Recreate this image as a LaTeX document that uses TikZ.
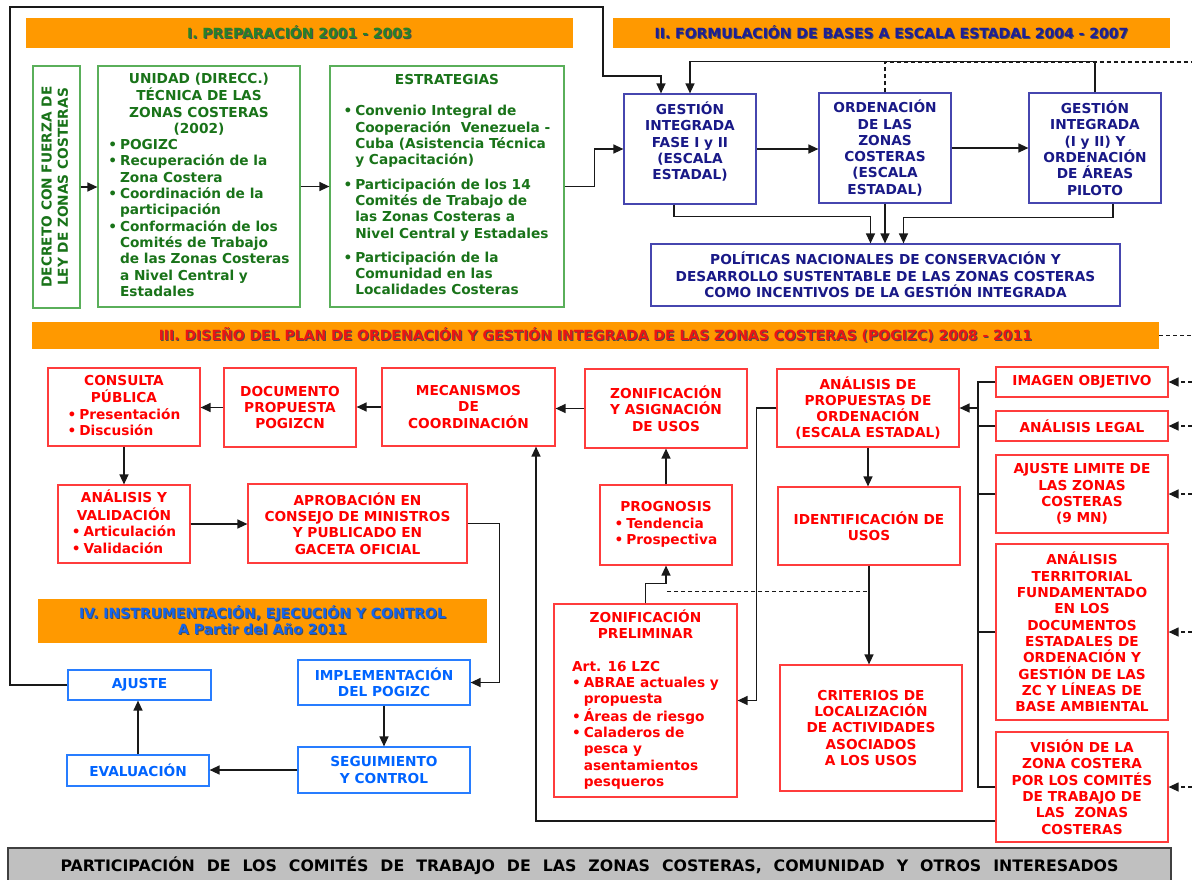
\documentclass[tikz,border=0pt]{standalone}
\usepackage{fontspec}
\setmainfont{DejaVu Sans}
\usepackage{graphicx}
\usetikzlibrary{arrows.meta,calc}

\definecolor{grtxt}{RGB}{25,115,25}
\definecolor{grln}{RGB}{90,175,90}
\definecolor{nvtxt}{RGB}{25,25,135}
\definecolor{nvln}{RGB}{70,70,175}
\definecolor{rdtxt}{RGB}{255,0,0}
\definecolor{rdln}{RGB}{255,60,60}
\definecolor{bltxt}{RGB}{0,100,255}
\definecolor{blln}{RGB}{40,125,255}
\definecolor{orng}{RGB}{255,153,0}
\definecolor{barfill}{RGB}{192,192,192}
\definecolor{hIcol}{RGB}{40,130,40}
\definecolor{hIIcol}{RGB}{30,30,150}
\definecolor{hIIIcol}{RGB}{235,20,20}
\definecolor{hIVcol}{RGB}{20,100,235}

% bullet lines and centred heads inside the boxes
\newcommand{\bl}{\makebox[0.85em][l]{•}}
\newcommand{\ct}{\hspace*{0.85em}}
\newcommand{\hd}[1]{\multicolumn{1}{@{}c@{}}{#1}}
\newcommand{\bx}[1]{\begin{tabular}{@{}l@{}}#1\end{tabular}}
\newcommand{\shad}[2]{\makebox[0pt][l]{\hspace*{1pt}\raisebox{-1pt}{\color{black!70}#2}}\textcolor{#1}{#2}}

\tikzset{
  cbox/.style={draw, line width=1.2pt, inner sep=0pt,
    font=\bfseries\fontsize{13.7}{16.3}\selectfont},
  gbox/.style={cbox, draw=grln, text=grtxt},
  nbox/.style={cbox, draw=nvln, text=nvtxt, align=center},
  rbox/.style={cbox, draw=rdln, text=rdtxt, align=center},
  bbox/.style={cbox, draw=blln, text=bltxt, align=center},
  hdr/.style={fill=orng, inner sep=0pt, align=center,
    font=\bfseries\fontsize{14}{16}\selectfont},
  ln/.style={line width=1.3pt, draw=black!90},
  arr/.style={ln, -{Triangle[length=10pt,width=9pt]}},
  dsh/.style={ln, dash pattern=on 4pt off 3pt},
  darr/.style={arr, dash pattern=on 4pt off 3pt}
}

\begin{document}
\begin{tikzpicture}[x=1pt,y=-1pt]
\useasboundingbox (0,0) rectangle (1192,879);
\fill[white] (0,0) rectangle (1192,879);

% headers
\node[hdr, minimum width=547, minimum height=30] (hI) at (299.5,33) {\shad{hIcol}{I. PREPARACIÓN 2001 - 2003}};
\node[hdr, minimum width=557, minimum height=30] (hII) at (891.5,33) {\shad{hIIcol}{II. FORMULACIÓN DE BASES A ESCALA ESTADAL 2004 - 2007}};
\node[hdr, minimum width=1127, minimum height=27] (hIII) at (595.5,335.5) {\shad{hIIIcol}{III. DISEÑO DEL PLAN DE ORDENACIÓN Y GESTIÓN INTEGRADA DE LAS ZONAS COSTERAS (POGIZC) 2008 - 2011}};
\node[hdr, minimum width=449, minimum height=44] (hIV) at (262.5,621) {\shad{hIVcol}{IV. INSTRUMENTACIÓN, EJECUCIÓN Y CONTROL}\\\shad{hIVcol}{A Partir del Año 2011}};
\node[draw=black!75, line width=1.5pt, fill=barfill, minimum width=1163, minimum height=36, inner sep=0pt,
  font=\bfseries\fontsize{15.8}{17}\selectfont] (partic) at (589.5,866)
  {\makebox[1058pt][s]{PARTICIPACIÓN DE LOS COMITÉS DE TRABAJO DE LAS ZONAS COSTERAS, COMUNIDAD Y OTROS INTERESADOS}};

% I. preparacion
\node[gbox, minimum width=47, minimum height=242] (decreto) at (56.5,187)
  {\rotatebox{90}{\begin{tabular}{@{}c@{}}DECRETO CON FUERZA DE\\LEY DE ZONAS COSTERAS\end{tabular}}};
\node[gbox, minimum width=202, minimum height=241] (unidad) at (199,186.5)
  {\bx{\hd{UNIDAD (DIRECC.)}\\ \hd{TÉCNICA DE LAS}\\ \hd{ZONAS COSTERAS}\\ \hd{(2002)}\\
  \bl POGIZC\\ \bl Recuperación de la\\ \ct Zona Costera\\ \bl Coordinación de la\\ \ct participación\\
  \bl Conformación de los\\ \ct Comités de Trabajo\\ \ct de las Zonas Costeras\\ \ct a Nivel Central y\\ \ct Estadales}};
\node[gbox, minimum width=234, minimum height=241] (estrat) at (447,186.5)
  {\bx{\hd{ESTRATEGIAS}\\[15pt] \bl Convenio Integral de\\ \ct Cooperación~ Venezuela -\\ \ct Cuba (Asistencia Técnica\\ \ct y Capacitación)\\[8pt]
  \bl Participación de los 14\\ \ct Comités de Trabajo de\\ \ct las Zonas Costeras a\\ \ct Nivel Central y Estadales\\[8pt]
  \bl Participación de la\\ \ct Comunidad en las\\ \ct Localidades Costeras}};

% II. formulacion
\node[nbox, minimum width=132, minimum height=110] (gfase) at (690,149) {GESTIÓN\\INTEGRADA\\FASE I y II\\(ESCALA\\ESTADAL)\\~};
\node[nbox, minimum width=132, minimum height=110] (orden) at (885,148) {ORDENACIÓN\\DE LAS\\ZONAS\\COSTERAS\\(ESCALA\\ESTADAL)};
\node[nbox, minimum width=132, minimum height=110] (gii) at (1095,148) {GESTIÓN\\INTEGRADA\\(I y II) Y\\ORDENACIÓN\\DE ÁREAS\\PILOTO};
\node[nbox, minimum width=469, minimum height=62] (politicas) at (885.5,275)
  {POLÍTICAS NACIONALES DE CONSERVACIÓN Y\\DESARROLLO SUSTENTABLE DE LAS ZONAS COSTERAS\\COMO INCENTIVOS DE LA GESTIÓN INTEGRADA};

% III. diseno
\node[rbox, minimum width=152, minimum height=78] (consulta) at (124,407) {\bx{\hd{CONSULTA}\\ \hd{PÚBLICA}\\ \bl Presentación\\ \bl Discusión}};
\node[rbox, minimum width=132, minimum height=79] (documento) at (290,407.5) {DOCUMENTO\\PROPUESTA\\POGIZCN};
\node[rbox, minimum width=173, minimum height=78] (mecanismos) at (468.5,407) {MECANISMOS\\DE\\COORDINACIÓN};
\node[rbox, minimum width=162, minimum height=79] (zonasig) at (666,408.5) {ZONIFICACIÓN\\Y ASIGNACIÓN\\DE USOS};
\node[rbox, minimum width=182, minimum height=78] (analprop) at (868,408) {ANÁLISIS DE\\PROPUESTAS DE\\ORDENACIÓN\\(ESCALA ESTADAL)};
\node[rbox, minimum width=132, minimum height=78] (analval) at (124,524) {\bx{\hd{ANÁLISIS Y}\\ \hd{VALIDACIÓN}\\ \bl Articulación\\ \bl Validación}};
\node[rbox, minimum width=219, minimum height=79] (aprob) at (357.5,523.5) {APROBACIÓN EN\\CONSEJO DE MINISTROS\\Y PUBLICADO EN\\GACETA OFICIAL};
\node[rbox, minimum width=132, minimum height=80] (prognosis) at (666,525) {\bx{\hd{PROGNOSIS}\\ \bl Tendencia\\ \bl Prospectiva}};
\node[rbox, minimum width=182, minimum height=78] (identif) at (869,526) {IDENTIFICACIÓN DE\\USOS};
\node[rbox, minimum width=183, minimum height=193] (zonpre) at (645.5,700.5)
  {\bx{\hd{ZONIFICACIÓN}\\ \hd{PRELIMINAR}\\[16pt] Art. 16 LZC\\ \bl ABRAE actuales y\\ \ct propuesta\\ \bl Áreas de riesgo\\
  \bl Caladeros de\\ \ct pesca y\\ \ct asentamientos\\ \ct pesqueros}};
\node[rbox, minimum width=182, minimum height=126] (criterios) at (871,728) {CRITERIOS DE\\LOCALIZACIÓN\\DE ACTIVIDADES\\ASOCIADOS\\A LOS USOS};
\node[rbox, minimum width=172, minimum height=30] (imagen) at (1082,382) {IMAGEN OBJETIVO};
\node[rbox, minimum width=172, minimum height=30] (legal) at (1082,426) {ANÁLISIS LEGAL};
\node[rbox, minimum width=172, minimum height=78] (ajlimite) at (1082,494) {AJUSTE LIMITE DE\\LAS ZONAS\\COSTERAS\\(9 MN)};
\node[rbox, minimum width=172, minimum height=176] (territorial) at (1082,632)
  {ANÁLISIS\\TERRITORIAL\\FUNDAMENTADO\\EN LOS\\DOCUMENTOS\\ESTADALES DE\\ORDENACIÓN Y\\GESTIÓN DE LAS\\ZC Y LÍNEAS DE\\BASE AMBIENTAL};
\node[rbox, minimum width=172, minimum height=110] (vision) at (1082,787) {VISIÓN DE LA\\ZONA COSTERA\\POR LOS COMITÉS\\DE TRABAJO DE\\LAS~ ZONAS\\COSTERAS};

% IV. instrumentacion
\node[bbox, minimum width=143, minimum height=30] (ajuste) at (139.5,685) {AJUSTE};
\node[bbox, minimum width=172, minimum height=45] (implem) at (384,682.5) {IMPLEMENTACIÓN\\DEL POGIZC};
\node[bbox, minimum width=142, minimum height=31] (evaluacion) at (138,770.5) {EVALUACIÓN};
\node[bbox, minimum width=172, minimum height=46] (seguim) at (384,770) {SEGUIMIENTO\\Y CONTROL};

% connectors I
\draw[arr] (decreto.east) -- (decreto.east-|unidad.west);
\draw[arr] (unidad.east) -- (unidad.east-|estrat.west);
\draw[arr] (estrat.east) -- ++(30,0) |- (gfase.west);

% connectors II
\draw[arr] (gfase.east) -- (gfase.east-|orden.west);
\draw[arr] (orden.east) -- (orden.east-|gii.west);
\draw[arr] ($(gfase.south)+(-16,0)$) -- ++(0,12) -| ($(politicas.north)+(-15,0)$);
\draw[arr] (orden.south) -- (orden.south|-politicas.north);
\draw[arr] ($(gii.south)+(18,0)$) -- ++(0,14) -| ($(politicas.north)+(18,0)$);
\draw[arr] (gii.north) -- ++(0,-31) -| (gfase.north);
\coordinate (edgeA) at (1192,62);
\draw[dsh] (orden.north) |- (edgeA);

% connectors III
\draw[arr] (mecanismos.west) -- (mecanismos.west-|documento.east);
\draw[arr] (documento.west) -- (documento.west-|consulta.east);
\draw[arr] (zonasig.west) -- (zonasig.west-|mecanismos.east);
\draw[arr] (consulta.south) -- (analval.north);
\draw[arr] (analval.east) -- (analval.east-|aprob.west);
\draw[arr] (aprob.east) -- ++(32,0) |- (implem.east);
\draw[arr] (prognosis.north) -- (zonasig.south);
\draw[arr] (analprop.south) -- (analprop.south|-identif.north);
\draw[arr] (identif.south) -- (identif.south|-criterios.north);
\draw[arr] (analprop.west) -- ++(-20,0) |- (zonpre.east);
\draw[arr] (zonpre.north) -- ++(0,-20) -| (prognosis.south);
\draw[dsh] (identif.south) |- ($(prognosis.south)+(0,26)$);
\coordinate (bus) at (978,0);
\draw[ln] (imagen.west) -| (bus|-vision.west) -- (vision.west);
\foreach \b in {legal,ajlimite,territorial} \draw[ln] (\b.west) -- (\b.west-|bus);
\draw[arr] (analprop.east-|bus) -- (analprop.east);
\draw[arr] ($(vision.west)+(0,34)$) -| ($(mecanismos.south)+(67.5,0)$);
\coordinate (edgeB) at (1192,0);
\foreach \b in {imagen,legal,ajlimite,territorial,vision} \draw[darr] (\b.east-|edgeB) -- (\b.east);
\draw[dsh] (hIII.east) -- (hIII.east-|edgeB);

% connectors IV
\draw[arr] (implem.south) -- (implem.south|-seguim.north);
\draw[arr] (seguim.west) -- (seguim.west-|evaluacion.east);
\draw[arr] (evaluacion.north) -- (evaluacion.north|-ajuste.south);
\coordinate (cA) at (10,7);
\coordinate (cB) at (603,76);
\draw[arr] (ajuste.west) -| (cA) -| (cB) -| ($(gfase.north)+(-29,0)$);
\end{tikzpicture}
\end{document}
